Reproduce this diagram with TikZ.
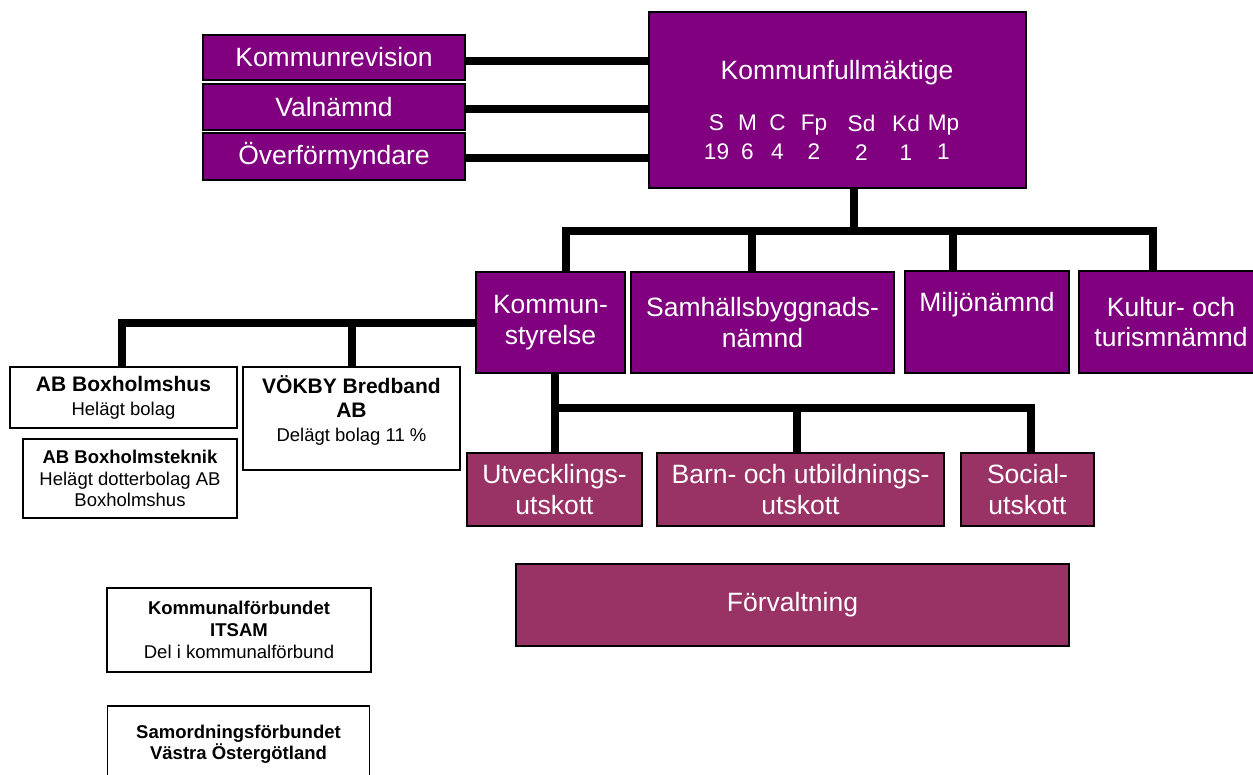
\documentclass[tikz,border=0pt]{standalone}
\usepackage{fontspec}
\setmainfont{Liberation Sans}
\definecolor{kpurple}{HTML}{800080}
\definecolor{kplum}{HTML}{993366}
\begin{document}
\begin{tikzpicture}[x=1pt,y=-1pt,
  pbox/.style={draw=black, line width=1.5pt, fill=kpurple, text=white, inner sep=0pt, align=center,
    font=\fontsize{26.5}{30.5}\selectfont},
  rbox/.style={pbox, fill=kplum},
  ptxt/.style={text=white, inner sep=0pt, align=center, font=\fontsize{26.5}{30.5}\selectfont},
  party/.style={text=white, inner sep=0pt, align=center, font=\fontsize{22.6}{29}\selectfont},
  wbox/.style={draw=black, line width=1.5pt, fill=white, inner sep=0pt, align=center},
  wtxt/.style={inner sep=0pt, align=center},
  conn/.style={line width=8pt, line join=miter, draw=black}]
\useasboundingbox (0,0) rectangle (1253,774);
\clip (0,0) rectangle (1253,774);

% top left boxes
\node[pbox, minimum width=262, minimum height=45] (kr) at (334,57.5) {Kommunrevision};
\node[pbox, minimum width=262, minimum height=46] (vn) at (334,107) {Valnämnd};
\node[pbox, minimum width=262, minimum height=47] (of) at (334,156.5) {Överförmyndare};

% Kommunfullmäktige
\node[pbox, minimum width=377, minimum height=176] (kf) at (837.5,100) {};
\node[ptxt] (kft) at (837,73) {Kommunfullmäktige};
\node[party] (pS) at (716.5,137.5) {S\\19};
\node[party] (pM) at (747.5,137.5) {M\\6};
\node[party] (pC) at (777.5,137.5) {C\\4};
\node[party] (pFp) at (814,137.5) {Fp\\2};
\node[party] (pSd) at (861.5,137.5) {Sd\\2};
\node[party] (pKd) at (906,137.5) {Kd\\1};
\node[party] (pMp) at (943.5,137.5) {Mp\\1};

% nämnder
\node[pbox, minimum width=149, minimum height=101] (ks) at (550.5,322.5) {Kommun-\\styrelse};
\node[pbox, minimum width=263, minimum height=101] (sb) at (762.5,322.5) {Samhällsbyggnads-\\nämnd};
\node[pbox, minimum width=164, minimum height=102] (mn) at (987,322) {};
\node[ptxt] (mnt) at (987,305) {Miljönämnd};
\node[pbox, minimum width=184, minimum height=102] (kt) at (1171,322) {Kultur- och\\turismnämnd};

% utskott
\node[rbox, minimum width=175, minimum height=73] (ut) at (554.5,489.5) {Utvecklings-\\utskott};
\node[rbox, minimum width=287, minimum height=73] (bu) at (800.5,489.5) {Barn- och utbildnings-\\utskott};
\node[rbox, minimum width=133, minimum height=73] (so) at (1027.5,489.5) {Social-\\utskott};
\node[rbox, minimum width=553, minimum height=82] (fv) at (792.5,605) {Förvaltning};

% bolag
\node[wbox, minimum width=227, minimum height=61, font=\fontsize{18.5}{24}\selectfont] (abhus) at (123.5,397.5)
  {\fontsize{21}{24}\selectfont\textbf{AB Boxholmshus}\\Helägt bolag};
\node[wbox, minimum width=217, minimum height=103] (vb) at (351.5,418.5) {};
\node[wtxt, font=\fontsize{21}{24}\selectfont] (vbt) at (351.5,410.5)
  {\textbf{VÖKBY Bredband}\\\textbf{AB}\\\fontsize{18.5}{22}\selectfont Delägt bolag 11 \%};
\node[wbox, minimum width=214, minimum height=79, font=\fontsize{18.5}{21.5}\selectfont] (abtek) at (130,478.5)
  {\textbf{AB Boxholmsteknik}\\Helägt dotterbolag AB\\Boxholmshus};
\node[wbox, minimum width=264, minimum height=84, font=\fontsize{18.5}{22}\selectfont] (itsam) at (239,630)
  {\textbf{Kommunalförbundet}\\\textbf{ITSAM}\\Del i kommunalförbund};
\node[wbox, minimum width=262, minimum height=100] (samo) at (238.5,756) {};
\node[wtxt, font=\fontsize{18.5}{21}\selectfont\bfseries] (samot) at (238.5,744)
  {Samordningsförbundet\\Västra Östergötland};

% connectors from KF to left boxes
\draw[conn] ([yshift=-3pt]kr.east) -- ([yshift=-3pt]kr.east -| kf.west);
\draw[conn] ([yshift=-2pt]vn.east) -- ([yshift=-2pt]vn.east -| kf.west);
\draw[conn] ([yshift=-1.5pt]of.east) -- ([yshift=-1.5pt]of.east -| kf.west);

% KF to nämnder
\coordinate (j0) at (854,231);
\coordinate (j1) at (566,231);
\coordinate (j2) at (752,231);
\coordinate (j3) at (953,231);
\coordinate (j4) at (1153,231);
\draw[conn] (kf.south -| j0) -- (j0);
\draw[conn] (ks.north -| j1) -- (j1) -- (j4) -- (kt.north -| j4);
\draw[conn] (j2) -- (sb.north -| j2);
\draw[conn] (j3) -- (mn.north -| j3);

% KS to bolag
\coordinate (k1) at (122,323);
\coordinate (k2) at (352,323);
\draw[conn] (ks.west |- k1) -- (k1) -- (abhus.north -| k1);
\draw[conn] (k2) -- (vb.north -| k2);

% KS to utskott
\coordinate (u0) at (555,408);
\coordinate (u1) at (797,408);
\coordinate (u2) at (1031,408);
\draw[conn] (ks.south -| u0) -- (ut.north -| u0);
\draw[conn] (u0) -- (u2) -- (so.north -| u2);
\draw[conn] (u1) -- (bu.north -| u1);
\end{tikzpicture}
\end{document}
